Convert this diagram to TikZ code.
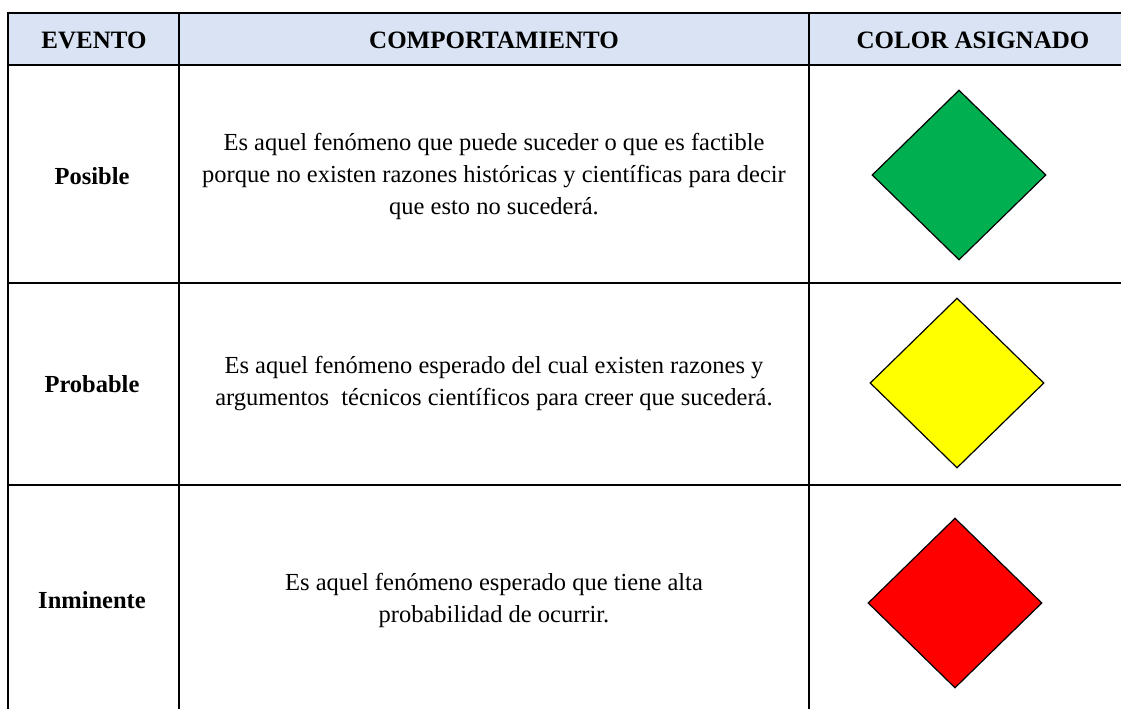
\documentclass[tikz,border=0pt]{standalone}
\usepackage{fontspec}
\setmainfont{Liberation Serif}
\usetikzlibrary{shapes.geometric}
\definecolor{headfill}{HTML}{DAE3F3}
\definecolor{vgreen}{HTML}{00B050}
\definecolor{vyellow}{HTML}{FFFF00}
\definecolor{vred}{HTML}{FF0000}
\tikzset{
  grid/.style={line width=2.8pt, black},
  headtxt/.style={font=\fontsize{25}{28}\selectfont\bfseries, inner sep=0pt},
  labtxt/.style={font=\fontsize{24.5}{28}\selectfont\bfseries, inner sep=0pt},
  bodytxt/.style={font=\fontsize{24.5}{32}\selectfont, align=center, inner sep=0pt},
  flag/.style={diamond, draw=black, line width=1.2pt, minimum width=174pt, minimum height=170pt, inner sep=0pt}
}
\begin{document}
\begin{tikzpicture}[x=1pt,y=-1pt]
\useasboundingbox (0,0) rectangle (1121,709);
% header fill
\fill[headfill] (8,13) rectangle (1121,65);
% grid lines
\draw[grid] (1121,13) -- (8,13) -- (8,709);
\draw[grid] (179,13) -- (179,709);
\draw[grid] (809,13) -- (809,709);
\draw[grid] (8,65) -- (1121,65);
\draw[grid] (8,283) -- (1121,283);
\draw[grid] (8,485) -- (1121,485);
% headers
\node[headtxt] (h1) at (94,40.5) {EVENTO};
\node[headtxt] (h2) at (494,40.5) {COMPORTAMIENTO};
\node[headtxt] (h3) at (973,40.5) {COLOR ASIGNADO};
% row labels
\node[labtxt] (l1) at (92,176) {Posible};
\node[labtxt] (l2) at (92,384) {Probable};
\node[labtxt] (l3) at (92,600) {Inminente};
% descriptions
\node[bodytxt] (d1) at (494,176) {Es aquel fenómeno que puede suceder o que es factible\\porque no existen razones históricas y científicas para decir\\que esto no sucederá.};
\node[bodytxt] (d2) at (494,384) {Es aquel fenómeno esperado del cual existen razones y\\argumentos\ \ técnicos científicos para creer que sucederá.};
\node[bodytxt] (d3) at (494,600) {Es aquel fenómeno esperado que tiene alta\\probabilidad de ocurrir.};
% diamonds
\node[flag, fill=vgreen] (f1) at (959,175) {};
\node[flag, fill=vyellow] (f2) at (957,383) {};
\node[flag, fill=vred] (f3) at (955,603) {};
\end{tikzpicture}
\end{document}
